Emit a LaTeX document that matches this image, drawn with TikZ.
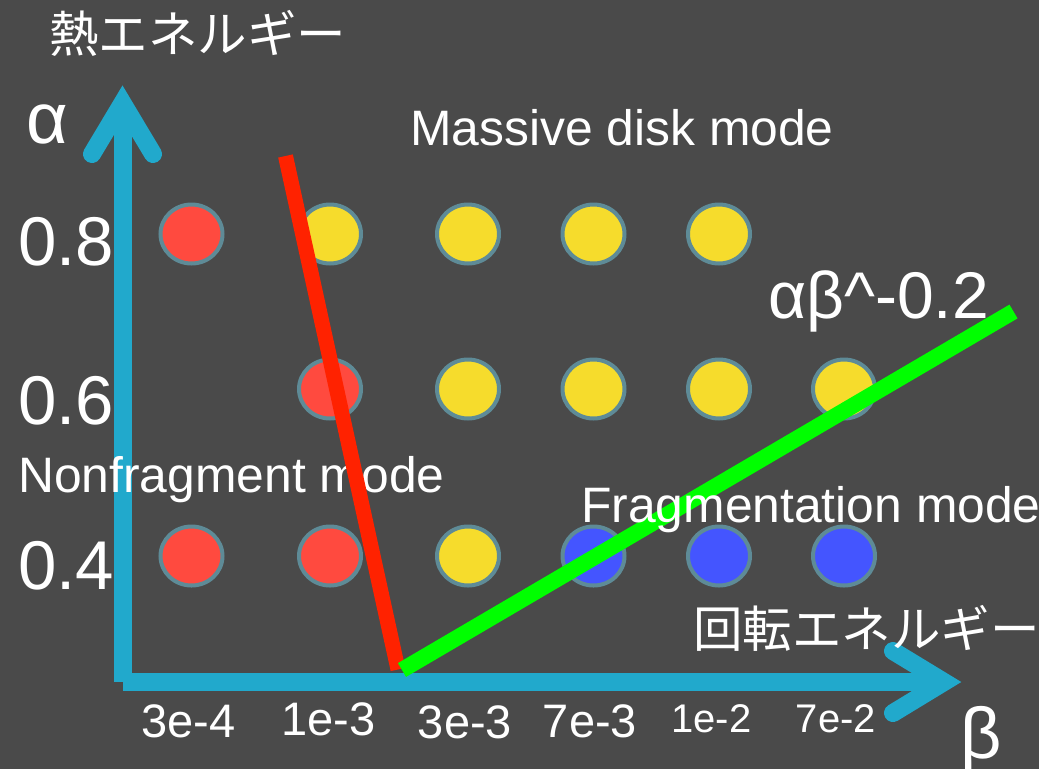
\documentclass[tikz,border=0pt]{standalone}
\usepackage{fontspec}
\setmainfont{Liberation Sans}
\newfontfamily\jpfont{Noto Sans CJK JP}
\usetikzlibrary{shapes.geometric}
\definecolor{bg}{HTML}{4A4A4A}
\definecolor{axisblue}{HTML}{21A9CC}
\definecolor{ringgray}{HTML}{5E8B97}
\definecolor{dotred}{HTML}{FF4A3F}
\definecolor{dotyellow}{HTML}{F6DC2C}
\definecolor{dotblue}{HTML}{4455FF}
\definecolor{boundred}{HTML}{FF2200}
\definecolor{boundgreen}{HTML}{00FF00}
\newcommand{\fs}[1]{\fontsize{#1}{#1}\selectfont}

\begin{document}
\begin{tikzpicture}[x=1pt,y=-1pt,
  dot/.style={ellipse, draw=ringgray, line width=4pt, minimum width=62pt,
    minimum height=59pt, inner sep=0pt},
  reddot/.style={dot, fill=dotred},
  yeldot/.style={dot, fill=dotyellow},
  bluedot/.style={dot, fill=dotblue},
  lbl/.style={text=white, inner sep=0pt},
  modelbl/.style={lbl, anchor=base west, font=\fs{49.8}},
  valbl/.style={lbl, anchor=base west, font=\fs{69}},
  ticklbl/.style={lbl, anchor=base, font=\fs{47}},
  smalltick/.style={lbl, anchor=base, font=\fs{40}},
  jplbl/.style={lbl, anchor=west, font=\jpfont\fs{49.5}},
  axisline/.style={draw=axisblue, line width=18pt},
  axishead/.style={axisline, line cap=round, line join=miter},
  boundary/.style={line width=#1, line cap=butt},
]
% canvas
\useasboundingbox (0,0) rectangle (1057,769);
\fill[white] (0,0) rectangle (1057,769);
\fill[bg] (0,0) rectangle (1039,769);

% sample points
\node[reddot] (r8a) at (191.5,234) {};
\node[yeldot] (y8b) at (330,234) {};
\node[yeldot] (y8c) at (468,234) {};
\node[yeldot] (y8d) at (593.5,234) {};
\node[yeldot] (y8e) at (719,234) {};

\node[reddot] (r6b) at (330,389) {};
\node[yeldot] (y6c) at (468,389) {};
\node[yeldot] (y6d) at (593.5,389) {};
\node[yeldot] (y6e) at (719,389) {};
\node[yeldot] (y6f) at (844,389) {};

\node[reddot] (r4a) at (191.5,556) {};
\node[reddot] (r4b) at (330,556) {};
\node[yeldot] (y4c) at (468,556) {};
\node[bluedot] (b4d) at (593.5,556) {};
\node[bluedot] (b4e) at (719,556) {};
\node[bluedot] (b4f) at (844,556) {};

% axes
\coordinate (vbase) at (122.5,682);
\coordinate (vtip) at (122.5,103);
\coordinate (vleft) at (92,154);
\coordinate (vright) at (153,154);
\coordinate (hbase) at (123,682);
\coordinate (htip) at (944,682);
\coordinate (hup) at (893,651);
\coordinate (hdown) at (893,713);
\draw[axisline] (vbase) -- (vtip);
\draw[axishead] (vleft) -- (vtip) -- (vright);
\draw[axisline] (hbase) -- (htip);
\draw[axishead] (hup) -- (htip) -- (hdown);

\node[modelbl] (nonfrag) at (18,492) {Nonfragment mode};

% boundaries
\coordinate (redtop) at (285.5,156);
\coordinate (redbot) at (398,669.5);
\coordinate (grnbot) at (402,670);
\coordinate (grntop) at (1013.5,311.5);
\draw[boundred, boundary=15pt] (redtop) -- (redbot);
\draw[boundgreen, boundary=16pt] (grnbot) -- (grntop);

% labels
\node[jplbl] (heat) at (49,33) {熱エネルギー};
\node[jplbl] (rot) at (693,628) {回転エネルギー};
\node[lbl, anchor=base west, font=\fs{72}] (alpha) at (26,143) {α};
\node[lbl, anchor=base west, font=\fs{72}] (beta) at (960,758) {β};
\node[valbl] (v8) at (18,265) {0.8};
\node[valbl] (v6) at (18,424) {0.6};
\node[valbl] (v4) at (18,589) {0.4};
\node[lbl, anchor=base west, font=\fs{66}] (law) at (768,318) {αβ\^{}-0.2};
\node[modelbl] (massive) at (410,145) {Massive disk mode};
\node[modelbl] (frag) at (581,522) {Fragmentation mode};

\node[ticklbl] (t1) at (188.5,737) {3e-4};
\node[ticklbl] (t2) at (328.5,735) {1e-3};
\node[ticklbl] (t3) at (465,738) {3e-3};
\node[ticklbl] (t4) at (590,737) {7e-3};
\node[smalltick] (t5) at (711.5,732) {1e-2};
\node[smalltick] (t6) at (836,732) {7e-2};
\end{tikzpicture}
\end{document}
